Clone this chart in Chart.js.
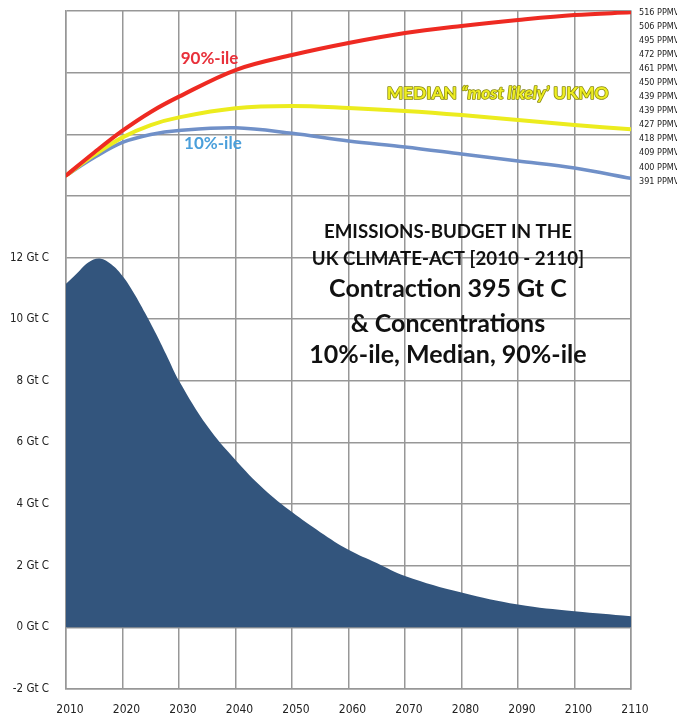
<!DOCTYPE html>
<html>
<head>
<meta charset="utf-8">
<script src="https://cdn.jsdelivr.net/npm/chart.js@4.4.1/dist/chart.umd.min.js"></script>
<style>
  html, body { margin: 0; padding: 0; background: #fff; }
</style>
</head>
<body>
<canvas id="chart" width="677" height="720"></canvas>
<script>
// concentration curves (ppmv)
const concYears = [2010, 2015, 2020, 2025, 2030, 2040, 2050, 2060, 2070, 2080, 2090, 2100, 2110];
const p90 = [395.3, 412.3, 428.4, 442.3, 453.6, 473.3, 484.4, 493.3, 500.7, 505.9, 510.3, 514.0, 516.0];
const median = [395.3, 410.5, 423.5, 432.6, 438.3, 445.0, 446.7, 445.2, 443.0, 440.0, 436.3, 432.6, 429.5];
const p10 = [395.3, 408.6, 419.7, 425.6, 428.6, 430.6, 426.5, 420.8, 416.4, 411.2, 406.0, 400.8, 393.2];

// emissions contraction (Gt C per year)
const emisYears = [2010, 2012, 2014, 2016, 2018, 2020, 2022, 2024, 2026, 2028, 2030,
                   2035, 2040, 2045, 2050, 2055, 2060, 2065, 2070, 2080, 2090, 2100, 2110];
const emissions = [11.15, 11.5, 11.85, 11.97, 11.78, 11.4, 10.85, 10.2, 9.5, 8.75, 8.0,
                   6.53, 5.43, 4.49, 3.74, 3.09, 2.52, 2.09, 1.67, 1.13, 0.74, 0.52, 0.36];

// right hand labels as printed (top to bottom)
const ppmvLabels = ['516 PPMV', '506 PPMV', '495 PPMV', '472 PPMV', '461 PPMV', '450 PPMV', '439 PPMV',
                    '439 PPMV', '427 PPMV', '418 PPMV', '409 PPMV', '400 PPMV', '391 PPMV'];
const ppmvTop = 516, ppmvBottom = 391;

const titleLines = ['EMISSIONS-BUDGET IN THE', 'UK CLIMATE-ACT [2010 - 2110]',
                    'Contraction 395 Gt C', '& Concentrations', '10%-ile, Median, 90%-ile'];

const pts = (xs, ys) => xs.map((v, i) => ({ x: v, y: ys[i] }));

const GRID = '#979797';
const narrow = "'Liberation Sans Narrow', 'DejaVu Sans Condensed', sans-serif";

const notes = {
  id: 'notes',
  afterDatasetsDraw(chart) {
    const { ctx, scales: { x, y, y2 } } = chart;
    ctx.save();
    ctx.textAlign = 'center';
    ctx.textBaseline = 'middle';

    ctx.font = 'bold 17px Lato';
    ctx.fillStyle = '#e8303a';
    ctx.fillText('90%-ile', x.getPixelForValue(2035.4), y2.getPixelForValue(482));
    ctx.fillStyle = '#4a9fdb';
    ctx.fillText('10%-ile', x.getPixelForValue(2036), y2.getPixelForValue(418.6));

    // median label, mixed upright / italic
    const sz = 'bold 17.4px Lato';
    const parts = [[sz, 'MEDIAN '], ['italic ' + sz, '\u201Cmost likely\u2019'], [sz, ' UKMO']];
    let total = 0;
    parts.forEach(([f, t]) => { ctx.font = f; total += ctx.measureText(t).width; });
    let px = x.getPixelForValue(2086.4) - total / 2;
    const py = y2.getPixelForValue(456.1);
    ctx.textAlign = 'left';
    ctx.lineJoin = 'round';
    parts.forEach(([f, t]) => {
      ctx.font = f;
      ctx.strokeStyle = '#8a8a10';
      ctx.lineWidth = 1.6;
      ctx.strokeText(t, px, py);
      ctx.fillStyle = '#eeee22';
      ctx.fillText(t, px, py);
      px += ctx.measureText(t).width;
    });

    // block title
    ctx.textAlign = 'center';
    ctx.fillStyle = '#111';
    const cx = x.getPixelForValue(2077.6);
    const rows = [12.83, 11.94, 10.97, 9.86, 8.84];
    titleLines.forEach((t, i) => {
      ctx.font = i < 2 ? 'bold 18.7px Lato' : 'bold 25px Lato';
      ctx.fillText(t, cx, y.getPixelForValue(rows[i]));
    });
    ctx.restore();
  }
};

const noPad = s => { s.paddingTop = 0; s.paddingBottom = 0; s.paddingLeft = 0; s.paddingRight = 0; };

new Chart(document.getElementById('chart'), {
  type: 'line',
  data: {
    datasets: [
      { label: '90%-ile', data: pts(concYears, p90), yAxisID: 'y2', borderColor: '#ee2a22', borderWidth: 4 },
      { label: 'Median', data: pts(concYears, median), yAxisID: 'y2', borderColor: '#ecec1e', borderWidth: 4 },
      { label: '10%-ile', data: pts(concYears, p10), yAxisID: 'y2', borderColor: '#7090c8', borderWidth: 3.5 },
      { label: 'Emissions', data: pts(emisYears, emissions), yAxisID: 'y', order: 10,
        tension: 0.4, backgroundColor: '#33557d', borderWidth: 0, fill: 'origin' }
    ]
  },
  options: {
    responsive: false,
    animation: false,
    devicePixelRatio: 1,
    layout: { padding: { top: 11, left: 0, right: 0, bottom: 0 } },
    elements: {
      point: { radius: 0 },
      line: { tension: 0.35, fill: false, borderCapStyle: 'round' }
    },
    plugins: { legend: { display: false }, tooltip: { enabled: false } },
    scales: {
      x: {
        type: 'linear', min: 2010, max: 2110,
        grid: { color: GRID, lineWidth: 1.5, drawTicks: false },
        border: { color: GRID, width: 1.5 },
        ticks: { stepSize: 10, padding: 14, labelOffset: 4, color: '#222',
                 font: { family: narrow, size: 12 }, callback: v => String(v) },
        afterFit: s => { noPad(s); s.height = 31; }
      },
      y: {
        position: 'left', min: -2, max: 20,
        grid: { color: GRID, lineWidth: 1.5, drawTicks: false },
        border: { color: GRID, width: 1.5 },
        ticks: { stepSize: 2, padding: 17, color: '#222', font: { family: narrow, size: 11.5 },
                 callback: v => (v <= 12 ? v + ' Gt C' : '') },
        afterFit: s => { noPad(s); s.width = 66; }
      },
      y2: {
        position: 'right', min: 15.48, max: 516.96,
        grid: { display: false, drawTicks: false },
        border: { color: GRID, width: 1.5 },
        ticks: { padding: 8, autoSkip: false, color: '#222', font: { family: narrow, size: 9 },
                 callback: (v, i) => ppmvLabels[i] },
        afterBuildTicks: s => {
          const step = (ppmvTop - ppmvBottom) / (ppmvLabels.length - 1);
          s.ticks = ppmvLabels.map((_, i) => ({ value: ppmvTop - i * step }));
        },
        afterFit: s => { noPad(s); s.width = 46; }
      }
    }
  },
  plugins: [notes]
});
</script>
</body>
</html>
